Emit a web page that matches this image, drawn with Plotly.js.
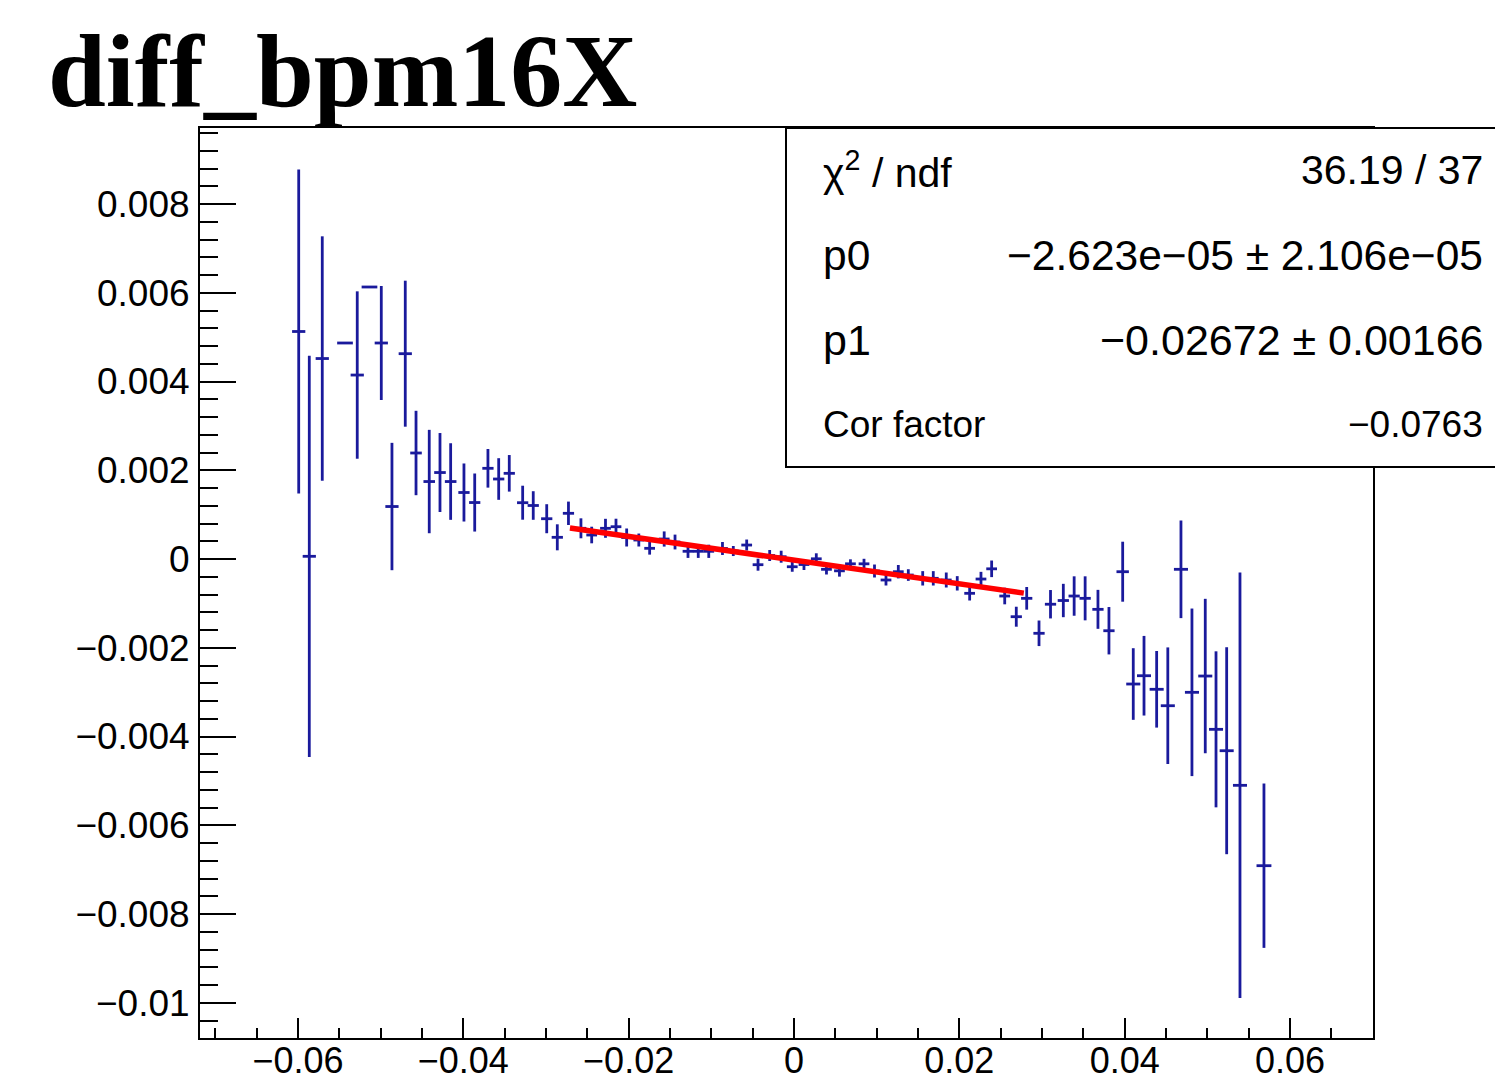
<!DOCTYPE html>
<html>
<head>
<meta charset="utf-8">
<script src="https://cdn.plot.ly/plotly-3.0.1.min.js"></script>
<style>
html,body{margin:0;padding:0;background:#fff;}
#plot{width:1495px;height:1088px;}
</style>
</head>
<body>
<div id="plot"></div>
<script>
// ---- data ----
const xVals = [
 -0.05991, -0.05863, -0.05706, -0.05431, -0.05283, -0.05135, -0.04992, -0.04863, -0.04702, -0.04572,
 -0.04412, -0.04282, -0.04153, -0.03992, -0.03862, -0.03702, -0.03572, -0.03444, -0.03282, -0.03154,
 -0.02991, -0.02863, -0.02728, -0.02577, -0.02447, -0.02280, -0.02153, -0.02024, -0.01877, -0.01746,
 -0.01570, -0.01439, -0.01282, -0.01158, -0.01031, -0.00865, -0.00734, -0.00572, -0.00435, -0.00294,
 -0.00155, -0.00021, 0.00121, 0.00270, 0.00393, 0.00550, 0.00683, 0.00847, 0.00974, 0.01113,
 0.01262, 0.01383, 0.01557, 0.01685, 0.01842, 0.01975, 0.02125, 0.02262, 0.02391, 0.02549,
 0.02689, 0.02815, 0.02964, 0.03103, 0.03258, 0.03389, 0.03522, 0.03677, 0.03810, 0.03976,
 0.04104, 0.04234, 0.04387, 0.04522, 0.04681, 0.04814, 0.04975, 0.05105, 0.05234, 0.05395,
 0.05685
];
const yVals = [
 0.005127, 0.000061, 0.004518, 0.004868, 0.004146, 0.006130, 0.004868, 0.001183, 0.004627, 0.002389,
 0.001746, 0.001949, 0.001746, 0.001499, 0.001273, 0.002044, 0.001803, 0.001931, 0.001269, 0.001206,
 0.000908, 0.000489, 0.001030, 0.000692, 0.000541, 0.000692, 0.000728, 0.000485, 0.000428, 0.000241,
 0.000451, 0.000383, 0.000174, 0.000174, 0.000174, 0.000237, 0.000180, 0.000315, -0.000128, 0.000079,
 0.000052, -0.000174, -0.000124, 0.000005, -0.000232, -0.000266, -0.000108, -0.000108, -0.000270, -0.000473,
 -0.000286, -0.000361, -0.000435, -0.000435, -0.000473, -0.000548, -0.000773, -0.000451, -0.000221, -0.000834,
 -0.001300, -0.000886, -0.001674, -0.001019, -0.000935, -0.000834, -0.000886, -0.001134, -0.001616, -0.000286,
 -0.002817, -0.002630, -0.002936, -0.003306, -0.000232, -0.003004, -0.002637, -0.003838, -0.004320, -0.005100,
 -0.006911
];
const yErr = [
 0.003651, 0.004521, 0.002754, 0, 0.001886, 0, 0.001285, 0.001435, 0.001645, 0.000951,
 0.001165, 0.000890, 0.000863, 0.000654, 0.000654, 0.000435, 0.000469, 0.000412, 0.000383, 0.000322,
 0.000327, 0.000293, 0.000264, 0.000225, 0.000187, 0.000214, 0.000180, 0.000203, 0.000146, 0.000142,
 0.000171, 0.000167, 0.000149, 0.000149, 0.000149, 0.000146, 0.000113, 0.000124, 0.000135, 0.000124,
 0.000135, 0.000113, 0.000124, 0.000124, 0.000117, 0.000131, 0.000101, 0.000113, 0.000146, 0.000124,
 0.000151, 0.000131, 0.000162, 0.000162, 0.000169, 0.000162, 0.000162, 0.000162, 0.000187, 0.000187,
 0.000225, 0.000255, 0.000288, 0.000320, 0.000376, 0.000444, 0.000496, 0.000439, 0.000534, 0.000676,
 0.000807, 0.000897, 0.000863, 0.001314, 0.001100, 0.001888, 0.001740, 0.001758, 0.002332, 0.004795,
 0.001852
];
const xErr = [
 0.00080, 0.00080, 0.00080, 0.00095, 0.00080, 0.00095, 0.00080, 0.00080, 0.00080, 0.00070,
 0.00070, 0.00070, 0.00070, 0.00068, 0.00068, 0.00068, 0.00068, 0.00068, 0.00068, 0.00068,
 0.00068, 0.00068, 0.00068, 0.00065, 0.00065, 0.00065, 0.00065, 0.00065, 0.00065, 0.00065,
 0.00065, 0.00065, 0.00065, 0.00065, 0.00065, 0.00065, 0.00065, 0.00065, 0.00065, 0.00065,
 0.00065, 0.00065, 0.00065, 0.00065, 0.00065, 0.00065, 0.00065, 0.00065, 0.00065, 0.00065,
 0.00065, 0.00065, 0.00065, 0.00065, 0.00065, 0.00065, 0.00065, 0.00065, 0.00065, 0.00065,
 0.00068, 0.00068, 0.00068, 0.00068, 0.00068, 0.00068, 0.00068, 0.00068, 0.00068, 0.00075,
 0.00085, 0.00085, 0.00085, 0.00085, 0.00085, 0.00085, 0.00085, 0.00085, 0.00085, 0.00085,
 0.00090
];
// fit line (pol1) endpoints
const fitX = [-0.0271, 0.0278];
const fitY = [0.000698, -0.000769];

const xTickVals = [-0.06, -0.04, -0.02, 0, 0.02, 0.04, 0.06];
const xTickText = ['\u22120.06', '\u22120.04', '\u22120.02', '0', '0.02', '0.04', '0.06'];
const yTickVals = [0.008, 0.006, 0.004, 0.002, 0, -0.002, -0.004, -0.006, -0.008, -0.01];
const yTickText = ['0.008', '0.006', '0.004', '0.002', '0', '\u22120.002', '\u22120.004', '\u22120.006', '\u22120.008', '\u22120.01'];

const statLabels = ['\u03c7<sup>2</sup> / ndf', 'p0', 'p1', 'Cor factor'];
const statValues = ['36.19 / 37', '\u22122.623e\u221205 \u00b1 2.106e\u221205', '\u22120.02672 \u00b1 0.00166', '\u22120.0763'];

// ---- layout helpers ----
const L = 200, R = 1373, T = 128, B = 1038;
const W = 1495, H = 1088;
const px2paperX = p => (p - L) / (R - L);
const px2paperY = p => (B - p) / (B - T);

const blue = '#1a1a9c';
const traces = [
  {
    type: 'scatter', mode: 'markers',
    x: xVals, y: yVals,
    marker: {size: 2, color: 'rgba(0,0,0,0)'},
    error_y: {type: 'data', array: yErr, visible: true, width: 0, thickness: 2.8, color: blue},
    error_x: {type: 'data', array: xErr, visible: true, width: 0, thickness: 2.8, color: blue},
    hoverinfo: 'skip', showlegend: false
  },
  {
    type: 'scatter', mode: 'lines',
    x: fitX, y: fitY,
    line: {color: '#ff0000', width: 5.5},
    hoverinfo: 'skip', showlegend: false
  }
];

const statRowsY = [170.5, 255.5, 340.5, 425];
const statSizes = [41, 42.5, 43, 37];
const annotations = [];
for (let i = 0; i < statLabels.length; i++) {
  annotations.push({
    xref: 'paper', yref: 'paper', x: px2paperX(821), y: px2paperY(statRowsY[i]),
    xanchor: 'left', yanchor: 'middle', showarrow: false, text: statLabels[i],
    font: {family: 'Liberation Sans, Arial, sans-serif', size: statSizes[i], color: '#000'}
  });
  annotations.push({
    xref: 'paper', yref: 'paper', x: px2paperX(1485), y: px2paperY(statRowsY[i]),
    xanchor: 'right', yanchor: 'middle', showarrow: false, text: statValues[i],
    font: {family: 'Liberation Sans, Arial, sans-serif', size: statSizes[i], color: '#000'}
  });
}

const layout = {
  width: W, height: H,
  margin: {l: L, r: W - R, t: T, b: H - B, pad: 0},
  paper_bgcolor: '#fff', plot_bgcolor: '#fff',
  title: {
    text: '<b>diff_bpm16X</b>',
    font: {family: 'Liberation Serif, Times New Roman, serif', size: 104, color: '#000'},
    xref: 'container', yref: 'container',
    x: 48 / W, xanchor: 'left',
    y: 1 - 70 / H, yanchor: 'middle'
  },
  xaxis: {
    range: [-0.07185, 0.07004],
    tickvals: xTickVals, ticktext: xTickText,
    ticks: 'inside', ticklen: 20, tickwidth: 2, tickcolor: '#000',
    minor: {ticks: 'inside', ticklen: 10, tickwidth: 2, tickcolor: '#000', dtick: 0.005, tick0: 0, showgrid: false},
    showgrid: false, zeroline: false,
    showline: true, linecolor: '#000', linewidth: 2, mirror: true,
    tickfont: {family: 'Liberation Sans, Arial, sans-serif', size: 36, color: '#000'},
    ticklabelstandoff: -10
  },
  yaxis: {
    range: [-0.010794, 0.009713],
    tickvals: yTickVals, ticktext: yTickText,
    ticks: 'inside', ticklen: 36, tickwidth: 2, tickcolor: '#000',
    minor: {ticks: 'inside', ticklen: 18, tickwidth: 2, tickcolor: '#000', dtick: 0.0004, tick0: 0, showgrid: false},
    showgrid: false, zeroline: false,
    showline: true, linecolor: '#000', linewidth: 2, mirror: true,
    tickfont: {family: 'Liberation Sans, Arial, sans-serif', size: 37, color: '#000'},
    ticklabelstandoff: 1
  },
  shapes: [
    {type: 'rect', xref: 'paper', yref: 'paper',
     x0: px2paperX(786), x1: px2paperX(1500), y0: px2paperY(467), y1: px2paperY(128),
     line: {color: '#000', width: 2}, fillcolor: '#fff', layer: 'above'}
  ],
  annotations: annotations,
  showlegend: false
};

Plotly.newPlot('plot', traces, layout, {displayModeBar: false, staticPlot: true});
</script>
</body>
</html>
